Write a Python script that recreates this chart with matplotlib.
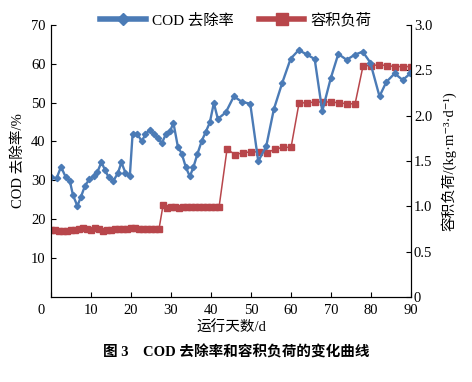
import matplotlib
matplotlib.use("Agg")
import matplotlib.pyplot as plt
import matplotlib.transforms as mtransforms
from matplotlib.lines import Line2D

plt.rcParams["font.family"] = ["Liberation Serif", "Noto Sans CJK SC", "DejaVu Sans"]
plt.rcParams["font.size"] = 10.5

# COD removal rate (%) vs day
cod_days = [0, 1.4, 2.5, 3.7, 4.7, 5.5, 6.6, 7.5, 8.5, 9.6, 10.7, 11.6, 12.6, 13.5,
            14.4, 15.6, 16.7, 17.6, 18.6, 19.7, 20.4, 21.6, 22.7, 23.6, 24.7, 25.7,
            26.8, 27.7, 28.7, 29.8, 30.6, 31.7, 32.7, 33.7, 34.7, 35.6, 36.6, 37.7,
            38.7, 39.7, 40.7, 41.7, 43.7, 45.7, 47.7, 49.8, 51.8, 53.8, 55.7, 57.8,
            59.9, 61.9, 63.9, 65.9, 67.8, 69.9, 71.8, 73.9, 75.9, 77.9, 79.8, 82.1,
            83.8, 85.9, 87.9, 89.8]
cod_removal = [30.8, 30.5, 33.5, 30.8, 29.9, 26.2, 23.4, 25.8, 28.6, 30.3, 31.1, 32.1,
               34.7, 32.7, 30.8, 29.9, 31.8, 34.6, 32.0, 31.0, 42.0, 41.9, 40.0, 41.9,
               43.0, 41.9, 40.8, 39.5, 41.9, 42.7, 44.8, 38.7, 36.8, 33.4, 31.0, 33.4,
               36.8, 40.2, 42.5, 44.9, 49.9, 45.8, 47.5, 51.6, 50.2, 49.7, 34.9, 38.8,
               48.3, 55.1, 61.3, 63.5, 62.4, 61.2, 47.8, 56.2, 62.5, 61.0, 62.3, 63.1,
               60.3, 51.6, 55.3, 57.5, 55.8, 57.5]

# volumetric loading (kg m-3 d-1) vs day
load_days = list(range(0, 43)) + list(range(44, 91, 2))
volume_load = [0.74, 0.74, 0.73, 0.73, 0.73, 0.74, 0.74, 0.75, 0.76, 0.75, 0.74, 0.76,
               0.75, 0.73, 0.74, 0.74, 0.75, 0.75, 0.75, 0.75, 0.76, 0.76, 0.75, 0.75,
               0.75, 0.75, 0.75, 0.75, 1.01, 0.98, 0.99, 0.99, 0.98, 0.99, 0.99, 0.99,
               0.99, 0.99, 0.99, 0.99, 0.99, 0.99, 0.99,
               1.63, 1.57, 1.59, 1.60, 1.60, 1.59, 1.63, 1.65, 1.65, 2.14, 2.14, 2.15,
               2.15, 2.15, 2.14, 2.13, 2.13, 2.55, 2.55, 2.56, 2.55, 2.54, 2.54, 2.54]

blue = "#4b7bb6"
red = "#b8464b"

fig = plt.figure(figsize=(4.72, 3.82), dpi=100)
ax = fig.add_axes([0.108, 0.2225, 0.763, 0.7125])
ax2 = ax.twinx()

ax.plot(cod_days, cod_removal, color=blue, lw=1.7, marker="D", markersize=3.2)
ax2.plot(load_days, volume_load, color=red, lw=1.1, marker="s", markersize=4.5)

# blue drawn over red
ax.set_zorder(ax2.get_zorder() + 1)
ax.patch.set_visible(False)

ax.set_xlim(0, 90)
ax.set_ylim(0, 70)
ax2.set_ylim(0, 3.0)
ax.set_xticks(range(0, 91, 10))
ax.set_yticks(range(10, 71, 10))
ax2.set_yticks([0, 0.5, 1.0, 1.5, 2.0, 2.5, 3.0])
ax2.set_yticklabels(["0", "0.5", "1.0", "1.5", "2.0", "2.5", "3.0"])

for a in (ax, ax2):
    a.spines["top"].set_visible(False)
    a.tick_params(direction="in", length=3.5, width=0.8, labelsize=10.5)
ax.tick_params(axis="y", pad=4)
ax.tick_params(axis="x", pad=5)
ax2.tick_params(axis="y", pad=2)

# the "0" of the x axis sits left of the corner
fig.canvas.draw()
shift = mtransforms.ScaledTranslation(-10 / 100, 0, fig.dpi_scale_trans)
lbl0 = ax.get_xticklabels()[0]
lbl0.set_transform(lbl0.get_transform() + shift)

ax.set_ylabel("COD 去除率/%", fontsize=10.5, labelpad=4)
ax2.set_ylabel("容积负荷/(kg·m⁻³·d⁻¹)", fontsize=10.5, labelpad=6)
ax.set_xlabel("运行天数/d", fontsize=10.5, labelpad=3)

handles = [
    Line2D([], [], color=blue, lw=4, marker="D", markersize=6),
    Line2D([], [], color=red, lw=4, marker="s", markersize=8),
]
fig.legend(handles, ["COD 去除率", "容积负荷"], loc="center", ncol=2,
           bbox_to_anchor=(0.5, 0.947), frameon=False, handlelength=3.0,
           handletextpad=0.4, columnspacing=1.6, fontsize=11)

fig.text(0.5, 0.078, "图 3    COD 去除率和容积负荷的变化曲线", ha="center",
         va="center", fontsize=10.5, fontweight="bold")

fig.savefig("out.png", dpi=100)
